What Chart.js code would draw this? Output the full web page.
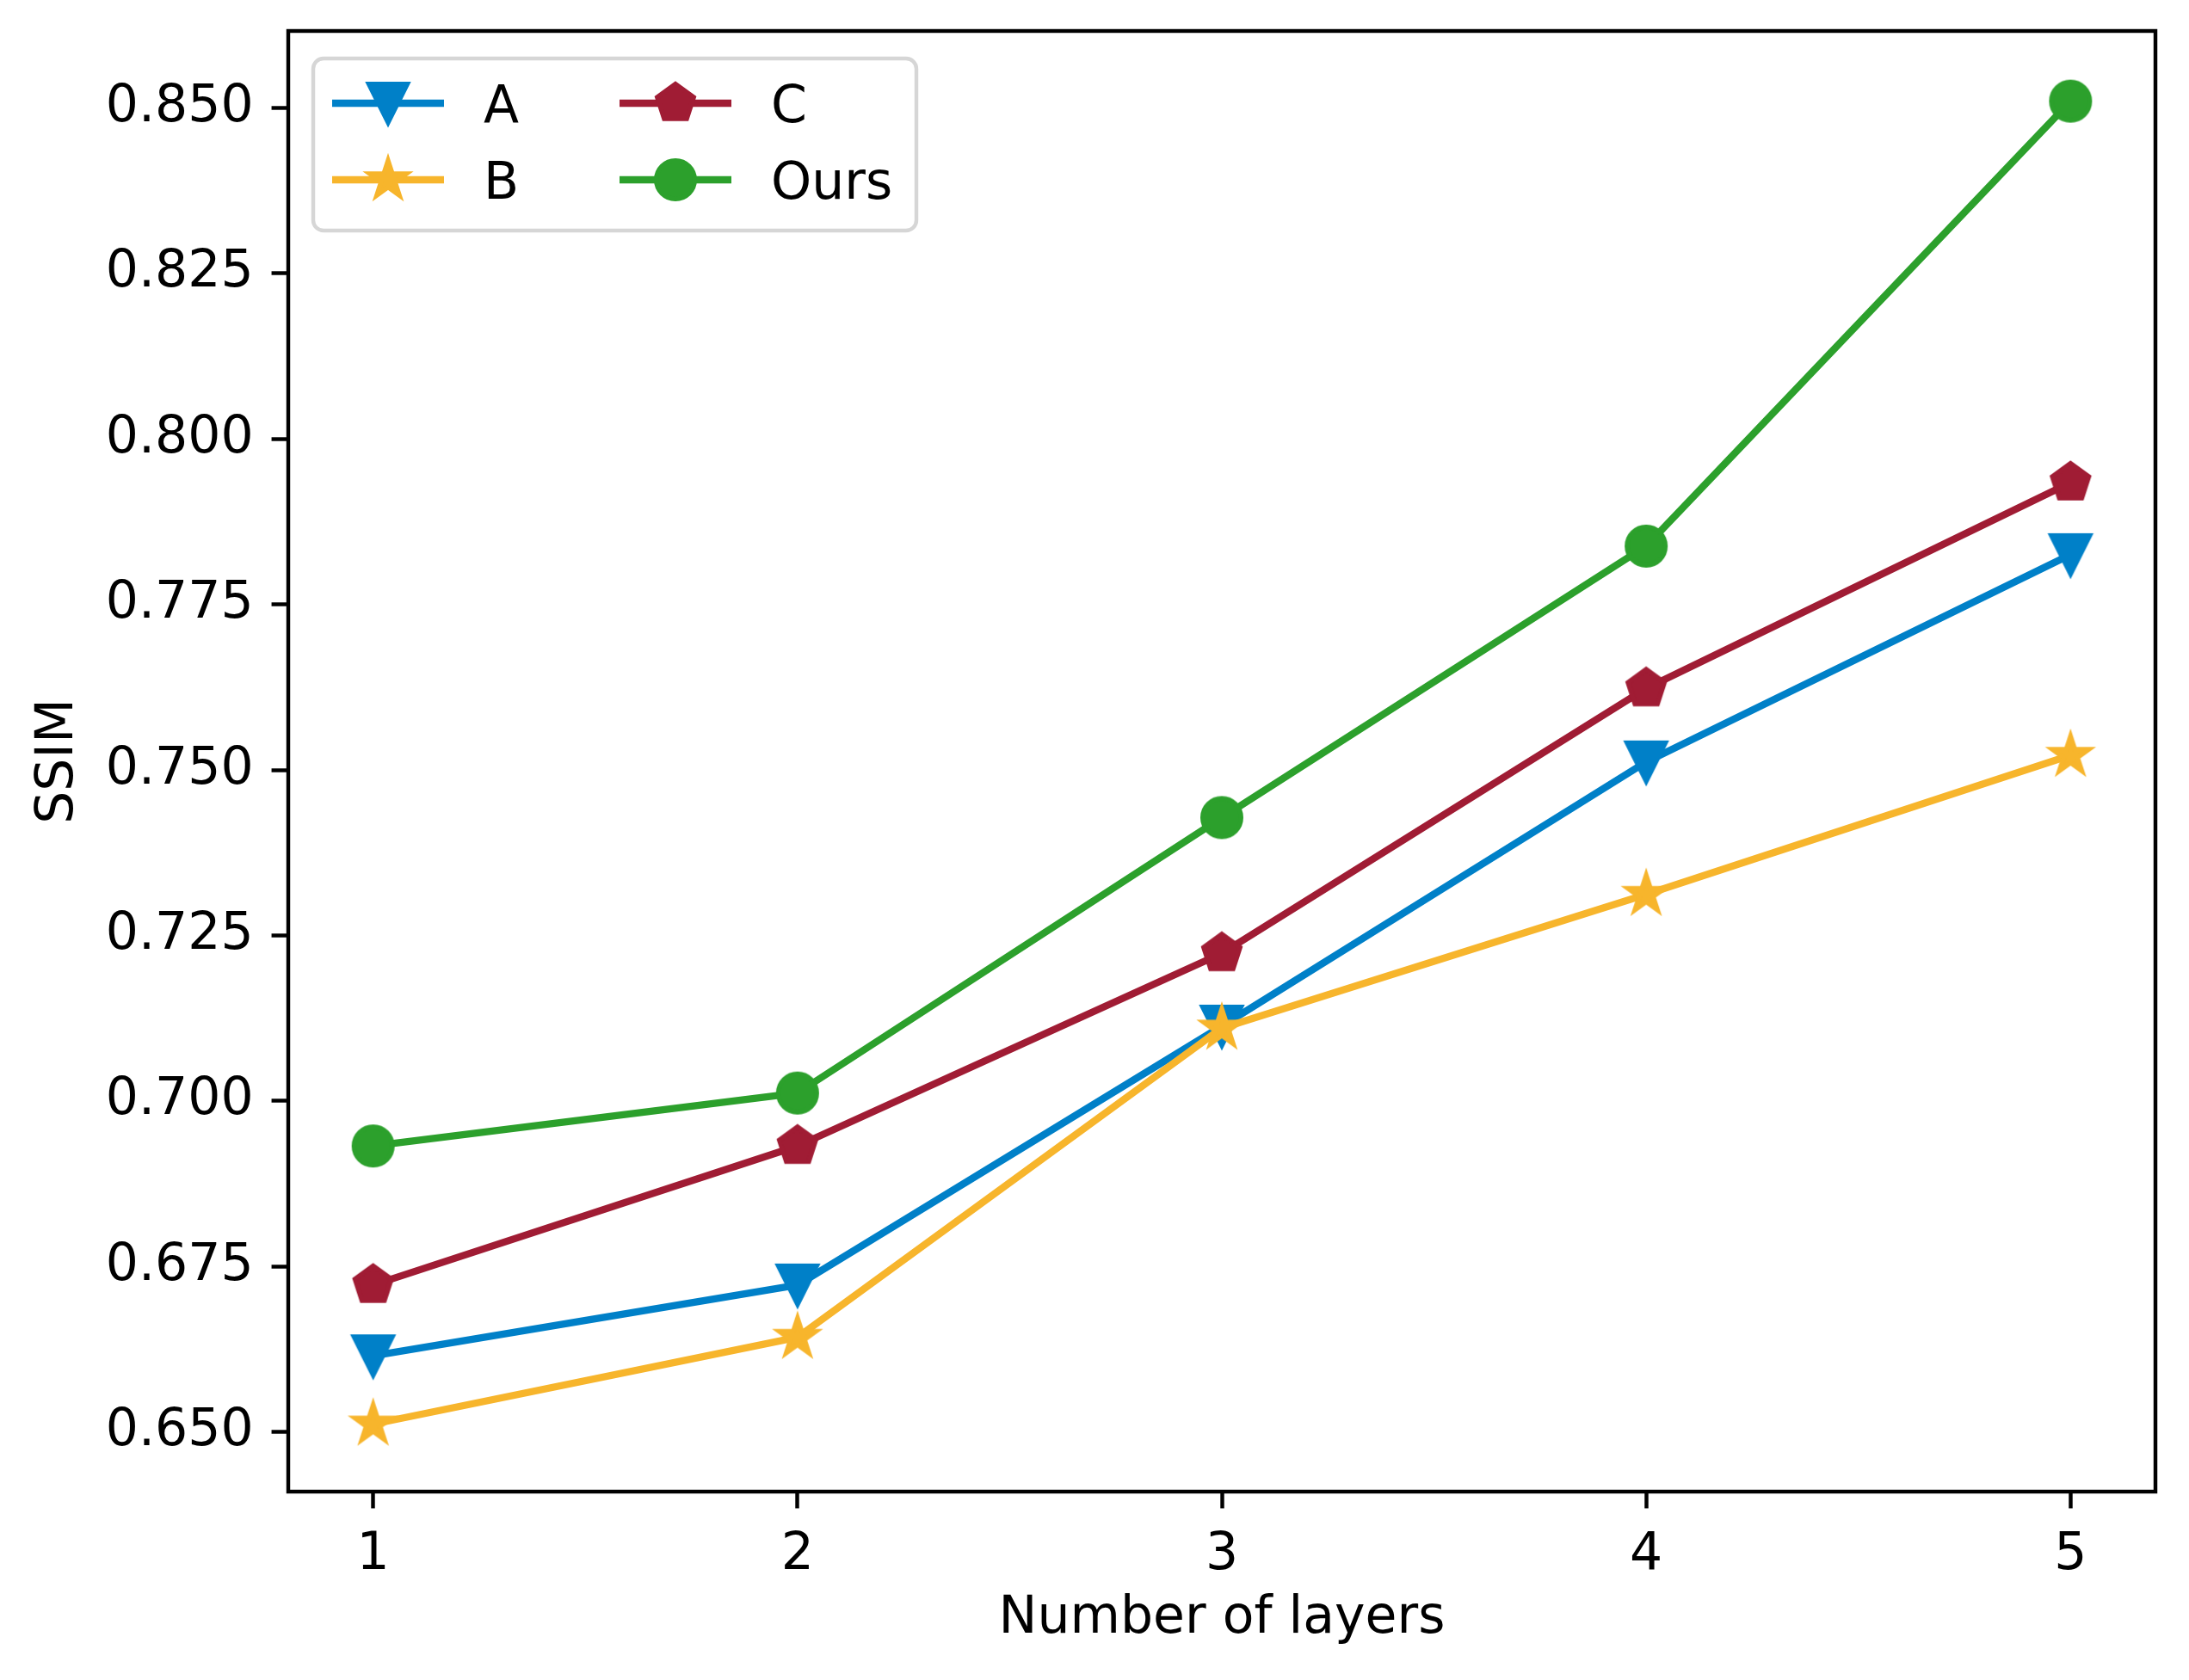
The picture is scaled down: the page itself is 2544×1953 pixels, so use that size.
<!DOCTYPE html>
<html>
<head>
<meta charset="utf-8">
<script src="https://cdn.jsdelivr.net/npm/chart.js@4.4.1/dist/chart.umd.min.js"></script>
<style>
  html, body { margin: 0; padding: 0; background: #fff; }
  #wrap { width: 2544px; height: 1953px; }
</style>
</head>
<body>
<div id="wrap"><canvas id="ssim" width="2544" height="1953"></canvas></div>
<script>
// data
const layers = [1, 2, 3, 4, 5];
const seriesNames = ['A', 'B', 'C', 'Ours'];
const valuesA = [0.6615, 0.6722, 0.7113, 0.7512, 0.7825];
const valuesB = [0.6512, 0.6643, 0.7110, 0.7312, 0.7522];
const valuesC = [0.6722, 0.6932, 0.7223, 0.7623, 0.7934];
const valuesOurs = [0.6932, 0.7012, 0.7428, 0.7838, 0.8510];
const yTicks = [0.650, 0.675, 0.700, 0.725, 0.750, 0.775, 0.800, 0.825, 0.850];

const colors = ['#0080c8', '#f7b52c', '#a01c34', '#2ca02c'];
const shapes = ['tri_down', 'star', 'pentagon', 'circle'];

const FONT = 'DejaVu Sans';
const FS = 60;
const PT = 5.556; // one point in pixels

// matplotlib-like marker drawn into a small canvas
function makeMarker(shape, color) {
  const c = document.createElement('canvas');
  c.width = 70; c.height = 70;
  const g = c.getContext('2d');
  const s = 4 * PT;
  g.translate(35, 35);
  g.beginPath();
  if (shape === 'circle') {
    g.arc(0, 0, s, 0, Math.PI * 2);
  } else if (shape === 'tri_down') {
    g.moveTo(0, s); g.lineTo(-s, -s); g.lineTo(s, -s);
  } else if (shape === 'pentagon') {
    for (let i = 0; i < 5; i++) {
      const a = -Math.PI / 2 + i * 2 * Math.PI / 5;
      g.lineTo(s * Math.cos(a), s * Math.sin(a));
    }
  } else if (shape === 'star') {
    for (let i = 0; i < 10; i++) {
      const a = -Math.PI / 2 + i * Math.PI / 5;
      const r = i % 2 === 0 ? s : s * 0.381966;
      g.lineTo(r * Math.cos(a), r * Math.sin(a));
    }
  }
  g.closePath();
  g.fillStyle = color;
  g.fill();
  g.lineWidth = PT;
  g.lineJoin = 'miter';
  g.strokeStyle = color;
  g.stroke();
  return c;
}

const markers = shapes.map((s, i) => makeMarker(s, colors[i]));
const allValues = [valuesA, valuesB, valuesC, valuesOurs];

const datasets = allValues.map((vals, i) => ({
  label: seriesNames[i],
  data: layers.map((x, j) => ({ x: x, y: vals[j] })),
  borderColor: colors[i],
  backgroundColor: colors[i],
  borderWidth: 1.5 * PT,
  borderJoinStyle: 'round',
  pointStyle: markers[i],
  pointRadius: 25,
  tension: 0,
  order: 4 - i
}));

// box around the plot area (matplotlib spines)
const spines = {
  id: 'spines',
  afterDatasetsDraw(chart) {
    const { ctx, chartArea: a } = chart;
    ctx.save();
    ctx.strokeStyle = '#000';
    ctx.lineWidth = 0.8 * PT;
    ctx.strokeRect(a.left, a.top, a.right - a.left, a.bottom - a.top);
    ctx.restore();
  }
};

// two-column legend with line + marker handles
const boxLegend = {
  id: 'boxLegend',
  afterDraw(chart) {
    const ctx = chart.ctx;
    ctx.save();
    ctx.beginPath();
    ctx.roundRect(364, 68, 701, 200, 12);
    ctx.fillStyle = 'rgba(255,255,255,0.8)';
    ctx.fill();
    ctx.lineWidth = 0.8 * PT;
    ctx.strokeStyle = '#d6d6d6';
    ctx.stroke();
    const colX = [386, 720];
    const rowY = [120, 209];
    chart.data.datasets.forEach((ds, i) => {
      const x0 = colX[Math.floor(i / 2)];
      const y = rowY[i % 2];
      ctx.beginPath();
      ctx.moveTo(x0, y);
      ctx.lineTo(x0 + 130, y);
      ctx.lineWidth = 1.5 * PT;
      ctx.strokeStyle = ds.borderColor;
      ctx.stroke();
      ctx.drawImage(ds.pointStyle, x0 + 65 - 35, y - 35);
      ctx.fillStyle = '#000';
      ctx.font = FS + 'px "' + FONT + '"';
      ctx.textBaseline = 'alphabetic';
      ctx.textAlign = 'left';
      ctx.fillText(ds.label, x0 + 176, y + 22);
    });
    ctx.restore();
  }
};

Chart.defaults.font.family = FONT;
Chart.defaults.font.size = FS;
Chart.defaults.color = '#000';

new Chart(document.getElementById('ssim').getContext('2d'), {
  type: 'line',
  data: { datasets: datasets },
  options: {
    responsive: false,
    devicePixelRatio: 1,
    animation: false,
    layout: { padding: { left: 0, top: 36, right: 39, bottom: 0 } },
    plugins: {
      legend: { display: false },
      tooltip: { enabled: false }
    },
    scales: {
      x: {
        type: 'linear',
        min: 0.8,
        max: 5.2,
        afterBuildTicks(scale) { scale.ticks = layers.map(v => ({ value: v })); },
        afterFit(scale) {
          scale.height = 219;
          scale.paddingLeft = 0; scale.paddingRight = 0;
        },
        ticks: { padding: 19, callback: v => String(v), maxRotation: 0 },
        grid: { drawOnChartArea: false, drawTicks: true, tickLength: 3.5 * PT, tickWidth: 0.8 * PT, tickColor: '#000' },
        border: { display: false },
        title: { display: true, text: 'Number of layers', padding: { top: 0, bottom: 35 } }
      },
      y: {
        type: 'linear',
        min: 0.641,
        max: 0.8616,
        afterBuildTicks(scale) { scale.ticks = yTicks.map(v => ({ value: v })); },
        afterFit(scale) {
          scale.width = 335;
          scale.paddingTop = 0; scale.paddingBottom = 0;
        },
        ticks: { padding: 21, callback: v => v.toFixed(3) },
        grid: { drawOnChartArea: false, drawTicks: true, tickLength: 3.5 * PT, tickWidth: 0.8 * PT, tickColor: '#000' },
        border: { display: false },
        title: { display: true, text: 'SSIM', padding: { top: 32, bottom: 0 } }
      }
    }
  },
  plugins: [spines, boxLegend]
});
</script>
</body>
</html>
